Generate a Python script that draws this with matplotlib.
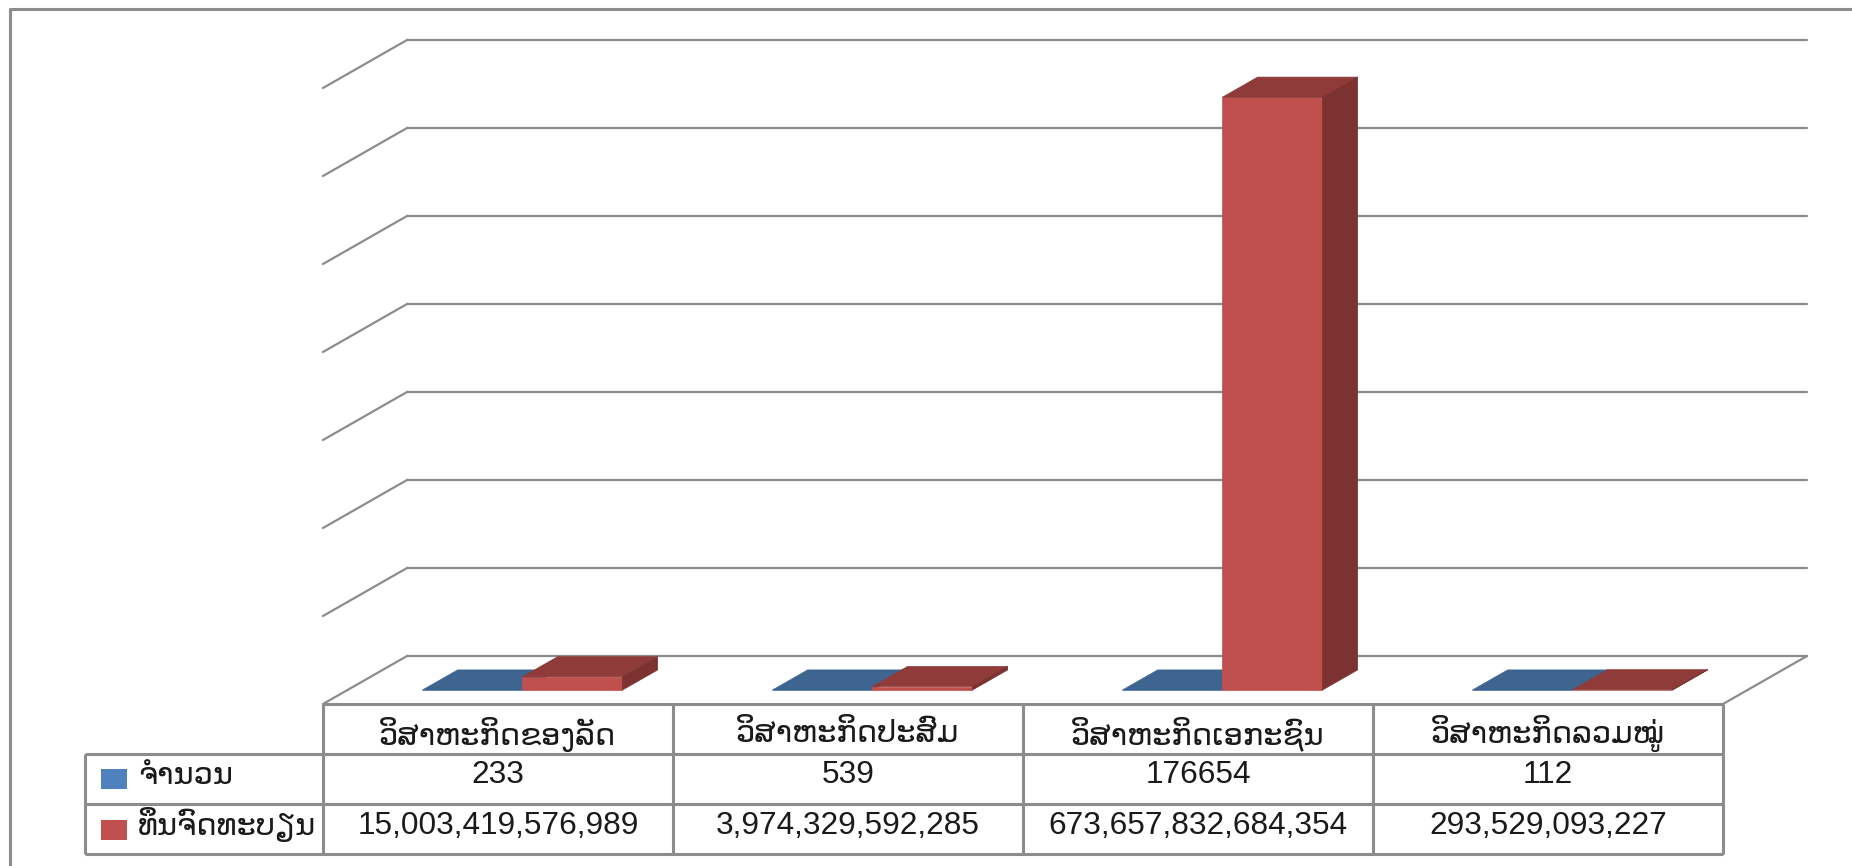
import matplotlib
matplotlib.use('Agg')
import matplotlib.pyplot as plt
from matplotlib.patches import Polygon, Rectangle

categorias = ['ວິສາຫະກິດຂອງລັດ', 'ວິສາຫະກິດປະສົມ', 'ວິສາຫະກິດເອກະຊົນ', 'ວິສາຫະກິດລວມໝູ່']
series_nombres = ['ຈຳນວນ', 'ທຶນຈົດທະບຽນ']
cantidad = [233, 539, 176654, 112]
capital = [15003419576989, 3974329592285, 673657832684354, 293529093227]
cantidad_txt = ['233', '539', '176654', '112']
capital_txt = ['15,003,419,576,989', '3,974,329,592,285', '673,657,832,684,354', '293,529,093,227']
niveles = [0, 1e14, 2e14, 3e14, 4e14, 5e14, 6e14, 7e14]

W, H = 1852, 866
GRIS = '#8c8c8c'
AZUL = ('#4f81bd', '#3e6490', '#35557b')
ROJO = ('#c0504d', '#8e3b39', '#7b3230')
TEXTO = '#1a1a1a'
FUENTE_LAO = ['DejaVu Sans']
FUENTE_NUM = ['Liberation Sans', 'DejaVu Sans']

# oblique depth: full floor depth moves 84 px right and 48 px up
DX = 84 / 350
DY = 48 / 88 * 1e14
D0, D1 = 0.29, 0.71
ANCHO = 100 / 350


def proy(x, v, d):
    return x + d * DX, v + d * DY


def linea(ax, puntos, lw=1.6):
    xs = [p[0] for p in puntos]
    ys = [p[1] for p in puntos]
    ax.plot(xs, ys, color=GRIS, lw=lw, clip_on=False, solid_capstyle='round', zorder=1)


def barra(ax, x, valor, colores, z):
    frente, arriba, lado = colores
    x2 = x + ANCHO
    caras = [
        ([proy(x, 0, D0), proy(x2, 0, D0), proy(x2, valor, D0), proy(x, valor, D0)], frente),
        ([proy(x, valor, D0), proy(x2, valor, D0), proy(x2, valor, D1), proy(x, valor, D1)], arriba),
        ([proy(x2, 0, D0), proy(x2, 0, D1), proy(x2, valor, D1), proy(x2, valor, D0)], lado),
    ]
    for puntos, color in caras:
        ax.add_patch(Polygon(puntos, closed=True, facecolor=color, edgecolor=color,
                             lw=0.5, clip_on=False, zorder=z))


def grafico_barras(fig):
    ax = fig.add_axes([323 / W, 1 - 704 / H, 1400 / W, 616 / H])
    ax.set_xlim(0, 4)
    ax.set_ylim(0, niveles[-1])
    ax.axis('off')

    for v in niveles:
        linea(ax, [proy(0, v, 0), proy(0, v, 1), proy(4, v, 1)])
    linea(ax, [proy(4, 0, 1), proy(4, 0, 0)])

    for i in range(len(categorias)):
        centro = i + 0.5
        barra(ax, centro - ANCHO, cantidad[i], AZUL, 3)
        barra(ax, centro, capital[i], ROJO, 4)


def tabla_datos(fig):
    izq = -238 / 350
    ax = fig.add_axes([85 / W, 1 - 854 / H, 1638 / W, 150 / H])
    ax.set_xlim(izq, 4)
    ax.set_ylim(3, 0)
    ax.axis('off')

    ax.hlines(0, 0, 4, color=GRIS, lw=2.2, clip_on=False)
    ax.hlines([1, 2, 3], izq, 4, color=GRIS, lw=2.2, clip_on=False)
    ax.vlines(izq, 1, 3, color=GRIS, lw=2.2, clip_on=False)
    ax.vlines([0, 1, 2, 3, 4], 0, 3, color=GRIS, lw=2.2, clip_on=False)

    for i, cat in enumerate(categorias):
        ax.text(i + 0.5, 0.6, cat, ha='center', va='center', fontsize=22, color=TEXTO, family=FUENTE_LAO)
        ax.text(i + 0.5, 1.42, cantidad_txt[i], ha='center', va='center', fontsize=22.8, color=TEXTO, family=FUENTE_NUM)
        ax.text(i + 0.5, 2.44, capital_txt[i], ha='center', va='center', fontsize=22.8, color=TEXTO, family=FUENTE_NUM)

    for fila, (nombre, color) in enumerate(zip(series_nombres, (AZUL[0], ROJO[0]))):
        ax.add_patch(Rectangle((-0.634, fila + 1.3 + 0.02 * fila), 0.074, 0.39, facecolor=color, edgecolor='none'))
        ax.text(-0.529, fila + 1.42, nombre, ha='left', va='center', fontsize=22, color=TEXTO, family=FUENTE_LAO)


def marco(fig):
    fig.add_artist(plt.Line2D([10 / W, 10 / W, 1], [0, 1 - 9 / H, 1 - 9 / H], color=GRIS, lw=2.2))


fig = plt.figure(figsize=(W / 100, H / 100), dpi=100, facecolor='white')
marco(fig)
grafico_barras(fig)
tabla_datos(fig)
fig.savefig('out.png', dpi=100)
